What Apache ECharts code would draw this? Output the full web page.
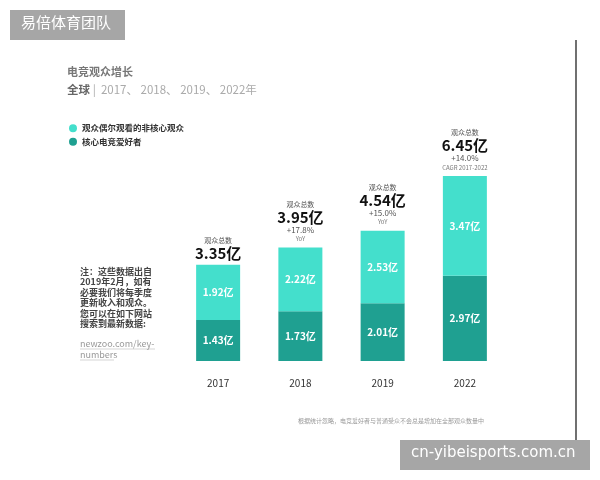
<!DOCTYPE html>
<html>
<head>
<meta charset="utf-8">
<script src="https://cdn.jsdelivr.net/npm/echarts@6/dist/echarts.min.js"></script>
<style>
  html, body { margin: 0; padding: 0; background: #fff; }
  #main { width: 600px; height: 480px; }
</style>
</head>
<body>
<div id="main"></div>
<script>
/* 电竞观众增长 堆叠柱状图 */

// 数据
var YEARS = ['2017', '2018', '2019', '2022'];
var CORE = [1.43, 1.73, 2.01, 2.97];        // 核心电竞爱好者
var CASUAL = [1.92, 2.22, 2.53, 3.47];      // 观众偶尔观看的非核心观众
var TOTAL = ['3.35', '3.95', '4.54', '6.45'];
var GROWTH = ['', '+17.8%', '+15.0%', '+14.0%'];
var GROWTH_NOTE = ['', 'YoY', 'YoY', 'CAGR 2017-2022'];

var NAME_CASUAL = '观众偶尔观看的非核心观众';
var NAME_CORE = '核心电竞爱好者';

var FONT = '"Noto Sans CJK SC", "Noto Sans", sans-serif';
var C_LIGHT = '#44dfcc';
var C_DARK = '#1fa091';

var NOTE_LINES = ['注：这些数据出自', '2019年2月，如有', '必要我们将每季度', '更新收入和观众。', '您可以在如下网站', '搜索到最新数据:'];

/* 柱子里的白字 */
var INNER_LABEL = {
    show: true,
    position: 'inside',
    color: '#fff',
    fontFamily: FONT,
    fontSize: 10,
    fontWeight: 'bold',
    formatter: function (p) { return p.value + '亿'; }
};

/* 柱顶的总数说明 */
var TOP_LABEL = {
    show: true,
    position: 'top',
    distance: 4,
    fontFamily: FONT,
    formatter: function (p) {
        var i = p.dataIndex;
        var s = '{a|观众总数}\n{b|' + TOTAL[i] + '亿}';
        if (GROWTH[i]) {
            s += '\n{c|' + GROWTH[i] + '}\n{d|' + GROWTH_NOTE[i] + '}';
        }
        return s;
    },
    rich: {
        a: { fontSize: 7, lineHeight: 11, color: '#555', fontFamily: FONT, align: 'center' },
        b: { fontSize: 15, lineHeight: 15, color: '#111', fontWeight: 'bold', fontFamily: FONT, align: 'center' },
        c: { fontSize: 8, lineHeight: 10, color: '#555', fontFamily: FONT, align: 'center' },
        d: { fontSize: 6, lineHeight: 9, color: '#777', fontFamily: FONT, align: 'center' }
    }
};

var graphics = [
    // 标题
    { type: 'text', left: 67, top: 66, style: { text: '电竞观众增长', fontSize: 11, fontWeight: 'bold', fill: '#777', fontFamily: FONT } },
    {
        type: 'text', left: 67, top: 84,
        style: {
            text: '{x|全球} {y||  2017、 2018、 2019、 2022年}',
            fontFamily: FONT,
            rich: {
                x: { fontSize: 11.5, fontWeight: 'bold', fill: '#666', fontFamily: FONT },
                y: { fontSize: 11.5, fill: '#aaa', fontFamily: FONT }
            }
        }
    },
    // 注释
    {
        type: 'text', left: 80, top: 266,
        style: { text: NOTE_LINES.join('\n'), fontSize: 9, lineHeight: 10.5, fontWeight: 'bold', fill: '#444', fontFamily: FONT }
    },
    {
        type: 'text', left: 80, top: 338,
        style: { text: 'newzoo.com/key-\nnumbers', fontSize: 9, lineHeight: 11, fill: '#999', fontFamily: FONT }
    },
    { type: 'line', shape: { x1: 80, y1: 349, x2: 155, y2: 349 }, style: { stroke: '#bbb', lineWidth: 0.6 } },
    { type: 'line', shape: { x1: 80, y1: 360, x2: 114, y2: 360 }, style: { stroke: '#bbb', lineWidth: 0.6 } },
    // 底部脚注
    {
        type: 'text', left: 298, top: 418,
        style: { text: '根据统计忽略，电竞爱好者与普通受众不会总是增加在全部观众数量中', fontSize: 6, fill: '#999', fontFamily: FONT }
    },
    // 右侧竖线
    { type: 'line', shape: { x1: 576, y1: 40, x2: 576, y2: 440 }, style: { stroke: '#111', lineWidth: 1.2 } },
    // 水印
    { type: 'rect', shape: { x: 10, y: 10, width: 115, height: 30 }, style: { fill: '#a6a6a6' } },
    { type: 'text', left: 21, top: 15, style: { text: '易倍体育团队', fontSize: 15, fill: '#fff', fontFamily: FONT } },
    { type: 'rect', shape: { x: 400, y: 440, width: 190, height: 30 }, style: { fill: '#a6a6a6' } },
    { type: 'text', left: 411, top: 446, style: { text: 'cn-yibeisports.com.cn', fontSize: 15, fill: '#fff', fontFamily: '"DejaVu Sans", sans-serif' } }
];

var option = {
    animation: false,
    backgroundColor: '#fff',
    textStyle: { fontFamily: FONT },
    legend: {
        data: [NAME_CASUAL, NAME_CORE],
        orient: 'vertical',
        left: 64,
        top: 119,
        icon: 'circle',
        itemWidth: 8,
        itemHeight: 8,
        itemGap: 5,
        textStyle: { fontSize: 8.5, fontWeight: 'bold', color: '#333', fontFamily: FONT }
    },
    grid: { left: 177, right: 94, top: 160, bottom: 119 },
    xAxis: {
        type: 'category',
        data: YEARS,
        axisLine: { show: false },
        axisTick: { show: false },
        axisLabel: { color: '#333', fontSize: 10, margin: 17, fontFamily: FONT }
    },
    yAxis: {
        type: 'value',
        min: 0,
        max: 7,
        show: false,
        splitLine: { show: false }
    },
    series: [
        {
            name: NAME_CORE,
            type: 'bar',
            stack: 'all',
            barWidth: 44,
            data: CORE,
            itemStyle: { color: C_DARK },
            label: INNER_LABEL
        },
        {
            name: NAME_CASUAL,
            type: 'bar',
            stack: 'all',
            barWidth: 44,
            data: CASUAL,
            itemStyle: { color: C_LIGHT },
            label: INNER_LABEL
        },
        {
            // 只用来放柱顶的说明文字
            name: 'top',
            type: 'bar',
            stack: 'all',
            barWidth: 44,
            data: YEARS.map(function () { return 0; }),
            itemStyle: { color: 'transparent' },
            label: TOP_LABEL,
            silent: true
        }
    ],
    graphic: graphics
};

var chart = echarts.init(document.getElementById('main'));
chart.setOption(option);
</script>
</body>
</html>
